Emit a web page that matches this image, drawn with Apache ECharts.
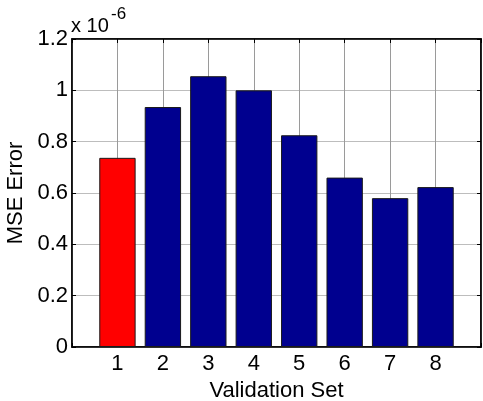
<!DOCTYPE html>
<html>
<head>
<meta charset="utf-8">
<script src="https://cdn.jsdelivr.net/npm/echarts@6/dist/echarts.min.js"></script>
<style>
  html, body { margin: 0; padding: 0; background: #fff; }
  #chart { width: 483px; height: 401px; }
</style>
</head>
<body>
<div id="chart"></div>
<script>
// Validation sets on the x axis and their mean squared error (in units of 1e-6)
const validationSets = ['1', '2', '3', '4', '5', '6', '7', '8'];
const mseError = [0.737, 0.935, 1.055, 1.0, 0.825, 0.66, 0.58, 0.623];
const highlightedSet = '1';

const yMin = 0, yMax = 1.2, yStep = 0.2;
const scaleExponent = '-6';

const FONT = 'Arial, "Liberation Sans", sans-serif';
const BLUE = '#00008f';
const RED = '#ff0000';

const chart = echarts.init(document.getElementById('chart'), null, { renderer: 'canvas' });

const barData = validationSets.map((name, i) => ({
  value: [i + 1, mseError[i]],
  itemStyle: { color: name === highlightedSet ? RED : BLUE }
}));

const fmtY = v => String(+v.toFixed(1));
const fmtX = v => (v >= 1 && v <= validationSets.length) ? validationSets[v - 1] : '';

const tickStyle = { inside: true, length: 4, lineStyle: { color: '#000', width: 1 } };
const lineStyle = { color: '#000', width: 1.5 };

chart.setOption({
  animation: false,
  textStyle: { fontFamily: FONT },
  grid: {
    left: 72, right: 2, top: 39, bottom: 54,
    containLabel: false, outerBoundsMode: 'none',
    show: true, borderColor: '#000', borderWidth: 1.5, backgroundColor: '#fff'
  },
  xAxis: [
    {
      type: 'value', min: 0, max: validationSets.length + 1, interval: 1,
      position: 'bottom',
      axisLine: { show: true, onZero: false, lineStyle },
      axisTick: tickStyle,
      axisLabel: { formatter: fmtX, fontSize: 22, color: '#000', margin: 6, fontFamily: FONT },
      splitLine: { show: true, lineStyle: { color: '#9a9a9a', width: 1 } },
      name: 'Validation Set', nameLocation: 'middle', nameGap: 25,
      nameTextStyle: { fontSize: 22, color: '#000', fontFamily: FONT }
    },
    {
      type: 'value', min: 0, max: validationSets.length + 1, interval: 1,
      position: 'top',
      axisLine: { show: true, onZero: false, lineStyle },
      axisTick: tickStyle,
      axisLabel: { show: false },
      splitLine: { show: false }
    }
  ],
  yAxis: [
    {
      type: 'value', min: yMin, max: yMax, interval: yStep,
      position: 'left',
      axisLine: { show: true, onZero: false, lineStyle },
      axisTick: tickStyle,
      axisLabel: { formatter: fmtY, fontSize: 22, color: '#000', margin: 4, fontFamily: FONT },
      splitLine: { show: true, lineStyle: { color: '#bdbdbd', width: 1 } },
      name: 'MSE Error', nameLocation: 'middle', nameGap: 38,
      nameTextStyle: { fontSize: 22, color: '#000', fontFamily: FONT }
    },
    {
      type: 'value', min: yMin, max: yMax, interval: yStep,
      position: 'right',
      axisLine: { show: true, onZero: false, lineStyle },
      axisTick: tickStyle,
      axisLabel: { show: false },
      splitLine: { show: false }
    }
  ],
  graphic: [
    {
      type: 'text', left: 71, top: 16, silent: true,
      style: { text: 'x 10', font: '20px ' + FONT, fill: '#000' }
    },
    {
      type: 'text', left: 111, top: 6, silent: true,
      style: { text: scaleExponent, font: '17px ' + FONT, fill: '#000' }
    }
  ],
  series: [
    {
      type: 'bar',
      xAxisIndex: 0, yAxisIndex: 0,
      barWidth: '80%',
      data: barData,
      itemStyle: { borderColor: '#1a1a1a', borderWidth: 1 }
    }
  ]
});
</script>
</body>
</html>
